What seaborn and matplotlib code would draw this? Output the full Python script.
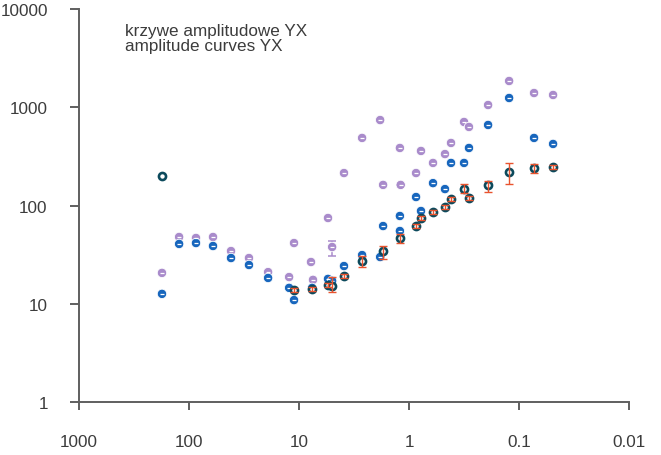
import numpy as np
import pandas as pd
import matplotlib
matplotlib.use("Agg")
import matplotlib.pyplot as plt
from matplotlib.ticker import FixedLocator, FixedFormatter, NullLocator
import seaborn as sns

# period values (s) and amplitudes for each curve
purple_period = [176, 123, 86.4, 60.5, 41.5, 28.5, 19.1, 12.3, 11.1, 7.78, 7.46, 5.45, 5.0,
                 3.9, 2.67, 1.83, 1.72, 1.21, 1.19, 0.863, 0.778, 0.605, 0.471, 0.415,
                 0.316, 0.285, 0.191, 0.123, 0.073, 0.049]
purple_amp = [20.6, 47.8, 46.7, 47.8, 34.4, 29.2, 21.0, 18.7, 41.5, 26.6, 17.5, 74.6, 37.8,
              214, 487, 741, 162, 385, 162, 214, 359, 271, 334, 433,
              708, 630, 1054, 1850, 1396, 1333]

blue_period = [176, 123, 86.4, 60.5, 41.5, 28.5, 19.1, 12.3, 11.1, 7.6, 5.45, 5.0, 3.9,
               2.67, 1.83, 1.72, 1.21, 1.21, 0.863, 0.778, 0.605, 0.471, 0.415, 0.316,
               0.285, 0.191, 0.123, 0.073, 0.049]
blue_amp = [12.6, 40.6, 41.5, 38.7, 29.2, 24.8, 18.3, 14.5, 10.9, 14.5, 17.9, 17.1, 24.2,
            31.3, 29.9, 61.8, 78.2, 55.0, 122, 87.9, 169, 147, 271, 271,
            385, 660, 1242, 487, 423]

dark_period = [176, 11.1, 7.6, 5.45, 5.0, 3.9, 2.67, 1.72, 1.21, 0.863, 0.778, 0.605,
               0.471, 0.415, 0.316, 0.285, 0.191, 0.123, 0.073, 0.049]
dark_amp = [200, 13.8, 14.1, 15.5, 15.2, 19.2, 27.2, 34.4, 46.7, 61.8, 74.6, 85.9,
            96.5, 116, 147, 119, 162, 219, 241, 247]
dark_low = [200, 13.1, 13.4, 14.7, 13.2, 18.2, 23.7, 28.5, 41.5, 58.7, 70.9, 81.6,
            91.7, 110, 134, 113, 137, 166, 214, 235]
dark_high = [200, 14.5, 14.8, 16.3, 18.7, 20.2, 30.6, 38.7, 51.3, 64.9, 78.3, 90.2,
             101, 122, 166, 125, 178, 271, 264, 259]

# single error bar on the purple curve
purple_err_period = [5.0]
purple_err_amp = [37.8]
purple_err_low = [30.6]
purple_err_high = [43.5]

x_ticks = [1000, 100, 10, 1, 0.1, 0.01]
x_labels = ["1000", "100", "10", "1", "0.1", "0.01"]
y_ticks = [1, 10, 100, 1000, 10000]
y_labels = ["1", "10", "100", "1000", "10000"]

note_lines = ["krzywe amplitudowe YX", "amplitude curves YX"]

PURPLE = "#a98bcb"
BLUE = "#1766bd"
DARK = "#0c4a5c"
RED = "#e9532e"
AXIS = "#5f5f5f"
TEXT = "#3c3c3c"

sns.set_style("ticks")
plt.rcParams["font.family"] = ["Liberation Sans", "DejaVu Sans"]

df = pd.concat([
    pd.DataFrame({"period": purple_period, "amp": purple_amp, "curve": "purple"}),
    pd.DataFrame({"period": blue_period, "amp": blue_amp, "curve": "blue"}),
], ignore_index=True)
dark_df = pd.DataFrame({"period": dark_period, "amp": dark_amp})

fig = plt.figure(figsize=(6.61, 4.56), dpi=100)
ax = fig.add_axes([79 / 661, 1 - 403 / 456, 550 / 661, 393 / 456])
ax.set_xscale("log")
ax.set_yscale("log")

# purple error bar sits beneath its marker
ax.errorbar(purple_err_period, purple_err_amp,
            yerr=[np.array(purple_err_amp) - np.array(purple_err_low),
                  np.array(purple_err_high) - np.array(purple_err_amp)],
            fmt="none", ecolor=PURPLE, elinewidth=1.1, capsize=3, capthick=1.1, zorder=1)

sns.scatterplot(data=df, x="period", y="amp", hue="curve",
                palette={"purple": PURPLE, "blue": BLUE},
                s=46, linewidth=0.6, edgecolor="white", legend=False, ax=ax, zorder=2)

# small white glyphs inside the filled markers
ax.scatter(df["period"], df["amp"], marker="_", s=6, linewidths=0.9,
           color="white", zorder=3)

sns.scatterplot(data=dark_df, x="period", y="amp", marker="o", s=26,
                facecolor="white", edgecolor=DARK, linewidth=1.9,
                legend=False, ax=ax, zorder=4)

dark_amp_a = np.array(dark_amp)
ax.errorbar(dark_period[1:], dark_amp[1:],
            yerr=[dark_amp_a[1:] - np.array(dark_low[1:]),
                  np.array(dark_high[1:]) - dark_amp_a[1:]],
            fmt="none", ecolor=RED, elinewidth=1.0, capsize=3, capthick=1.0, zorder=5)

ax.set_xlim(1000, 0.01)
ax.set_ylim(1, 10000)

ax.xaxis.set_major_locator(FixedLocator(x_ticks))
ax.xaxis.set_major_formatter(FixedFormatter(x_labels))
ax.xaxis.set_minor_locator(NullLocator())
ax.yaxis.set_major_locator(FixedLocator(y_ticks))
ax.yaxis.set_major_formatter(FixedFormatter(y_labels))
ax.yaxis.set_minor_locator(NullLocator())

sns.despine(ax=ax)
for side in ("left", "bottom"):
    ax.spines[side].set_color(AXIS)
    ax.spines[side].set_linewidth(1.4)
ax.tick_params(axis="x", direction="out", length=6, width=1.4, color=AXIS,
               labelsize=12.3, labelcolor=TEXT, pad=17)
ax.tick_params(axis="y", direction="out", length=6.5, width=1.4, color=AXIS,
               labelsize=12.3, labelcolor=TEXT, pad=16)
ax.set_xlabel("")
ax.set_ylabel("")

for i, line in enumerate(note_lines):
    ax.text(125 / 661, 1 - (36 + 15 * i) / 456, line, transform=fig.transFigure,
            fontsize=12.3, color=TEXT, va="baseline", ha="left")

fig.savefig("out.png", dpi=100)
